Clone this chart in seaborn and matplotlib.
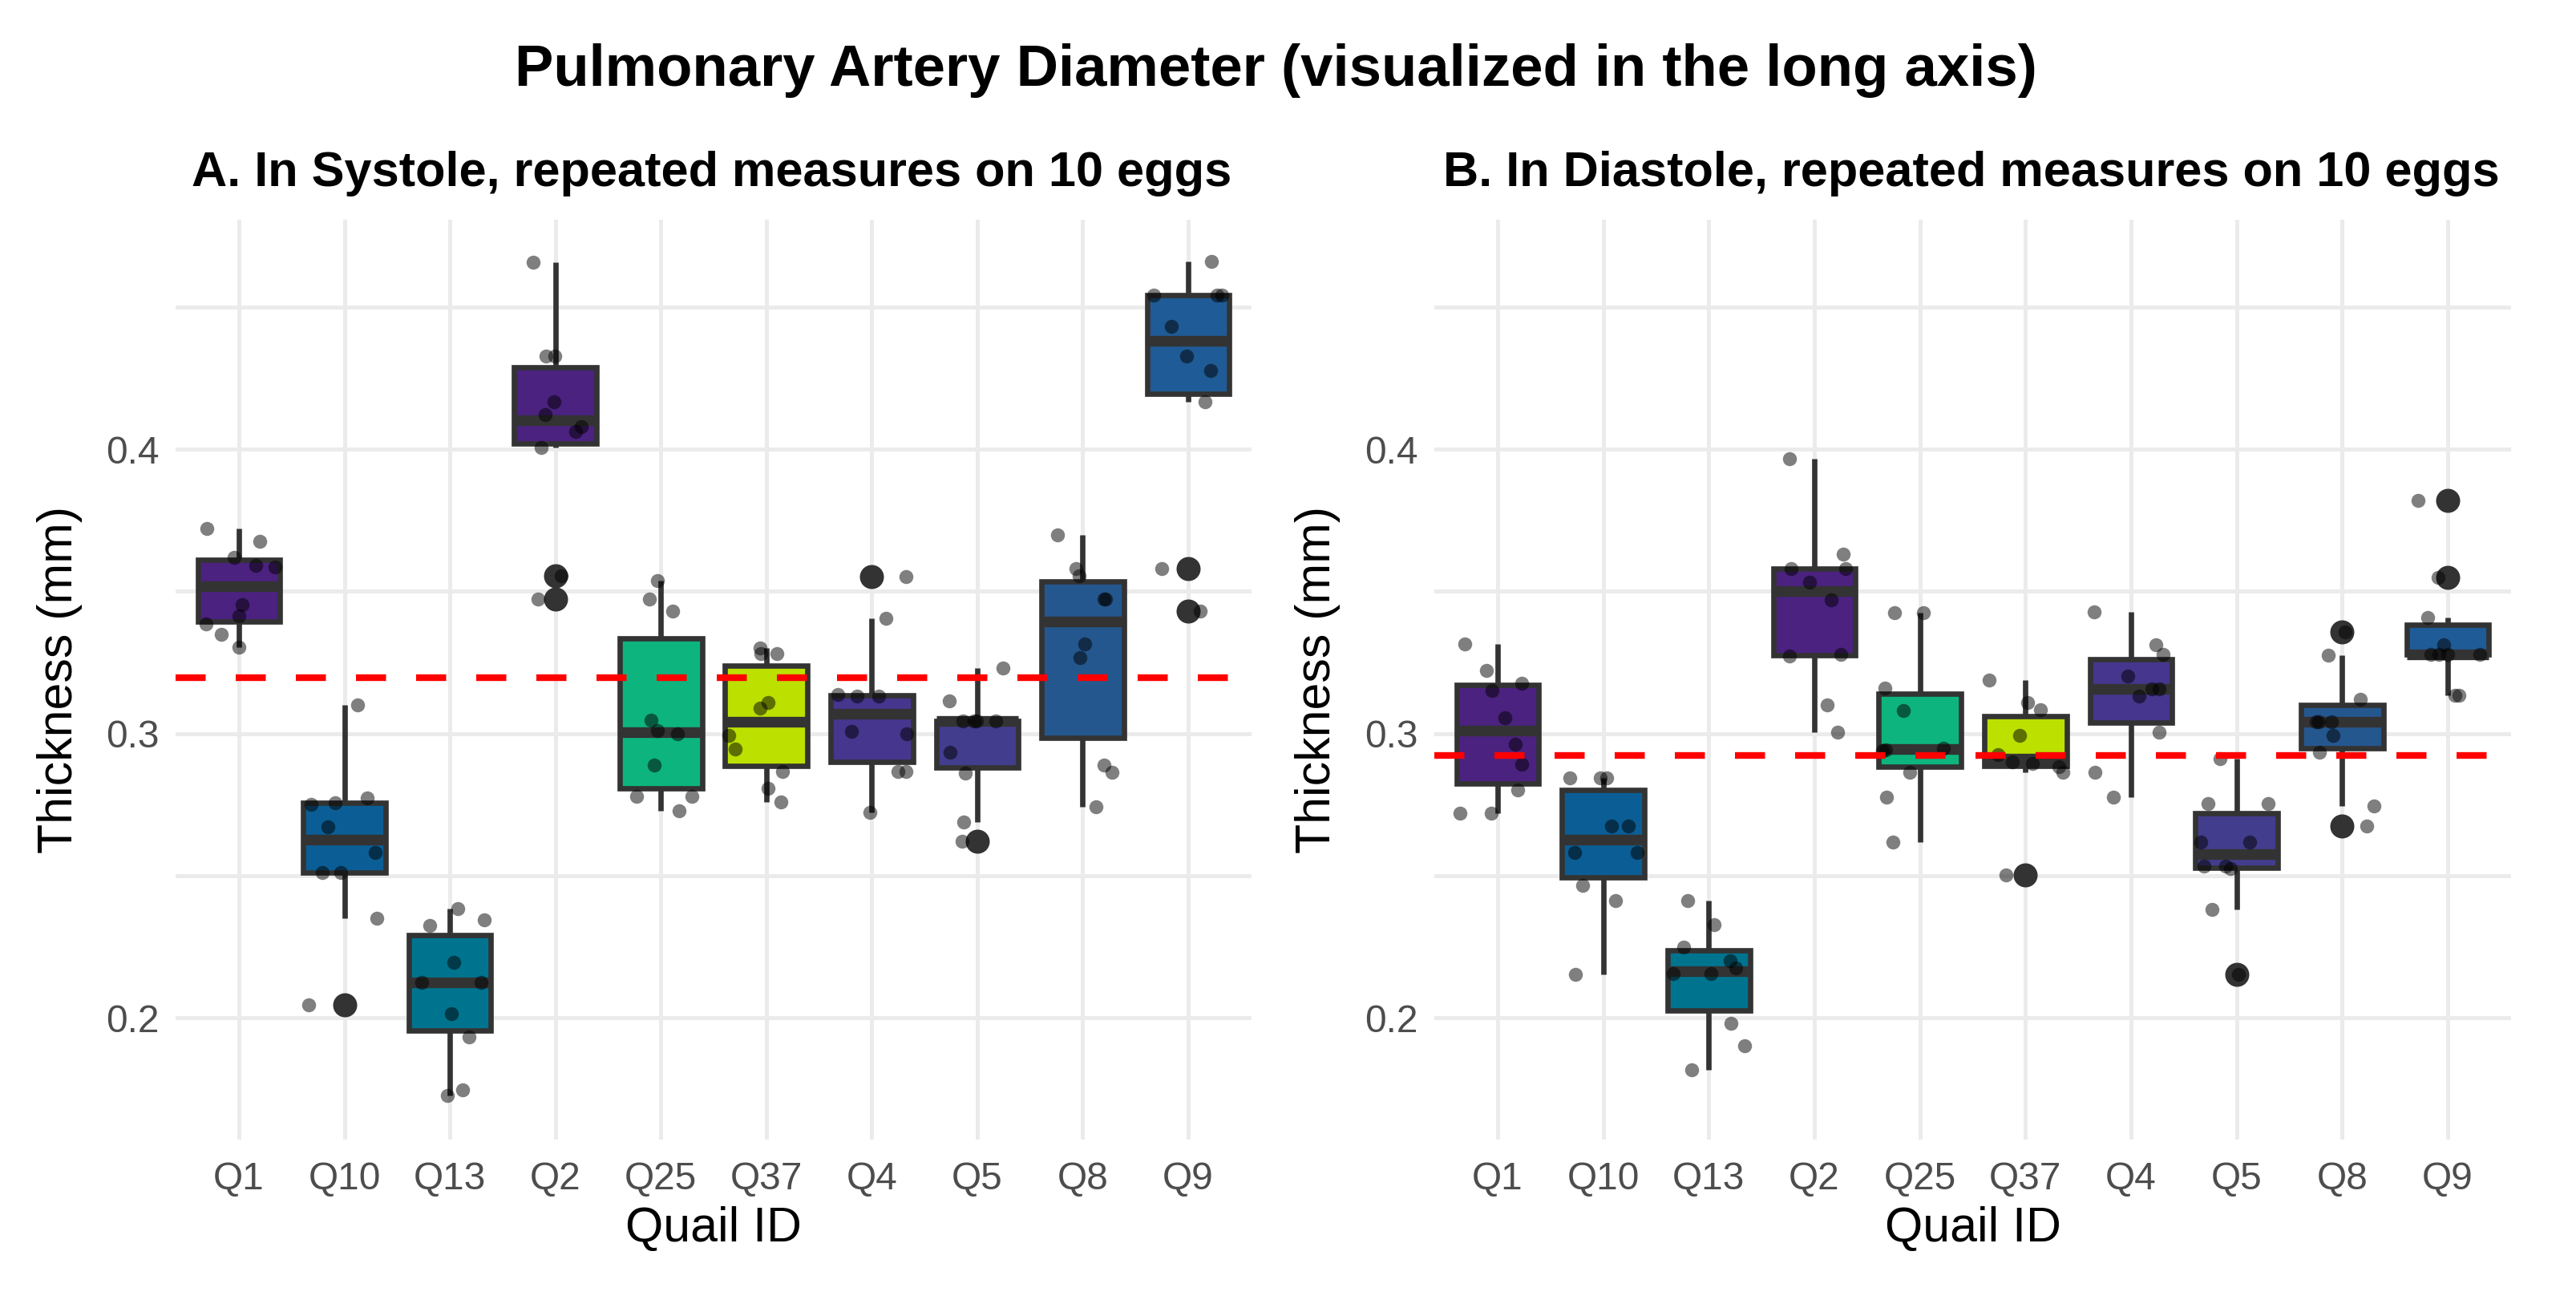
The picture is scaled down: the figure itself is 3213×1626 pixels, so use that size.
import numpy as np
import pandas as pd
import matplotlib
matplotlib.use("Agg")
import matplotlib.pyplot as plt
import seaborn as sns

# Quail IDs (alphabetical order, as on the x axis)
quail_ids = ["Q1", "Q10", "Q13", "Q2", "Q25", "Q37", "Q4", "Q5", "Q8", "Q9"]

# Systole: pulmonary artery diameter (mm), 10 repeated measures per egg
sys_q1 = [0.3720, 0.3675, 0.3620, 0.3590, 0.3585, 0.3453, 0.3413, 0.3386, 0.3350, 0.3305]
sys_q10 = [0.3101, 0.2774, 0.2757, 0.2751, 0.2673, 0.2583, 0.2512, 0.2512, 0.2351, 0.2046]
sys_q13 = [0.2384, 0.2344, 0.2324, 0.2196, 0.2125, 0.2125, 0.2015, 0.1934, 0.1746, 0.1726]
sys_q2 = [0.4658, 0.4328, 0.4328, 0.4167, 0.4122, 0.4080, 0.4062, 0.4005, 0.3555, 0.3473]
sys_q25 = [0.3538, 0.3473, 0.3430, 0.3047, 0.3009, 0.2999, 0.2889, 0.2780, 0.2780, 0.2727]
sys_q37 = [0.3301, 0.3282, 0.3282, 0.3110, 0.3090, 0.2992, 0.2946, 0.2866, 0.2806, 0.2760]
sys_q4 = [0.3552, 0.3406, 0.3136, 0.3133, 0.3133, 0.3007, 0.2999, 0.2866, 0.2866, 0.2724]
sys_q5 = [0.3230, 0.3115, 0.3045, 0.3045, 0.3045, 0.3045, 0.2934, 0.2862, 0.2688, 0.2622]
sys_q8 = [0.3699, 0.3581, 0.3555, 0.3473, 0.3473, 0.3315, 0.3268, 0.2889, 0.2863, 0.2741]
sys_q9 = [0.4661, 0.4543, 0.4543, 0.4543, 0.4433, 0.4328, 0.4277, 0.4167, 0.3581, 0.3430]

# Diastole
dia_q1 = [0.3315, 0.3221, 0.3177, 0.3152, 0.3055, 0.2963, 0.2891, 0.2801, 0.2719, 0.2719]
dia_q10 = [0.2844, 0.2844, 0.2844, 0.2674, 0.2674, 0.2581, 0.2581, 0.2466, 0.2413, 0.2152]
dia_q13 = [0.2413, 0.2327, 0.2248, 0.2202, 0.2176, 0.2155, 0.2155, 0.1982, 0.1903, 0.1817]
dia_q2 = [0.3967, 0.3630, 0.3580, 0.3580, 0.3532, 0.3469, 0.3279, 0.3274, 0.3102, 0.3006]
dia_q25 = [0.3426, 0.3426, 0.3160, 0.3082, 0.2949, 0.2942, 0.2940, 0.2863, 0.2777, 0.2619]
dia_q37 = [0.3188, 0.3110, 0.3085, 0.2992, 0.2925, 0.2900, 0.2895, 0.2884, 0.2863, 0.2504]
dia_q4 = [0.3429, 0.3312, 0.3279, 0.3203, 0.3157, 0.3157, 0.3131, 0.3006, 0.2863, 0.2777]
dia_q5 = [0.2913, 0.2755, 0.2755, 0.2619, 0.2619, 0.2533, 0.2533, 0.2525, 0.2382, 0.2153]
dia_q8 = [0.3358, 0.3276, 0.3120, 0.3042, 0.3042, 0.3042, 0.2992, 0.2935, 0.2745, 0.2674]
dia_q9 = [0.3821, 0.3550, 0.3408, 0.3312, 0.3279, 0.3279, 0.3279, 0.3279, 0.3135, 0.3135]

# Fill colour per quail
box_colors = ["#4B2280", "#0B5E95", "#00748F", "#4B2280", "#0DB47E",
              "#BCE000", "#46368E", "#433D8E", "#25578F", "#1F5B96"]

systole = [sys_q1, sys_q10, sys_q13, sys_q2, sys_q25, sys_q37, sys_q4, sys_q5, sys_q8, sys_q9]
diastole = [dia_q1, dia_q10, dia_q13, dia_q2, dia_q25, dia_q37, dia_q4, dia_q5, dia_q8, dia_q9]


def to_long(groups):
    rows = []
    for qid, vals in zip(quail_ids, groups):
        for v in vals:
            rows.append({"quail": qid, "thickness": v})
    return pd.DataFrame(rows)


df_sys = to_long(systole)
df_dia = to_long(diastole)
palette = dict(zip(quail_ids, box_colors))

sns.set_theme(style="white")
plt.rcParams['font.family'] = ['Liberation Sans', 'DejaVu Sans']

W, H = 3213, 1626
fig = plt.figure(figsize=(W / 300, H / 300), dpi=300)
fig.patch.set_facecolor("white")

ax_top, ax_bot = 274, 1420.6
ax_a = fig.add_axes([219 / W, 1 - ax_bot / H, 1342 / W, (ax_bot - ax_top) / H])
ax_b = fig.add_axes([1789 / W, 1 - ax_bot / H, 1343 / W, (ax_bot - ax_top) / H])

np.random.seed(7)


def draw_panel(ax, df):
    sns.boxplot(data=df, x="quail", y="thickness", hue="quail", order=quail_ids,
                hue_order=quail_ids, palette=palette, saturation=1, legend=False,
                width=0.78, linecolor="#333333", linewidth=1.6, showcaps=False,
                whis=1.5, fliersize=6.2,
                flierprops=dict(marker="o", markerfacecolor="#333333",
                                markeredgecolor="#333333", markersize=6.2),
                medianprops=dict(color="#333333", linewidth=3.2),
                ax=ax)
    sns.stripplot(data=df, x="quail", y="thickness", order=quail_ids,
                  color="black", alpha=0.5, size=4.2, jitter=0.36,
                  linewidth=0, zorder=3, ax=ax)
    ax.axhline(df["thickness"].mean(), color="red", lw=2.0,
               ls=(0, (4.5, 4.5)), zorder=4)

    ax.set_xlim(-0.6, 9.6)
    ax.set_ylim(0.1573, 0.4807)
    ax.set_yticks([0.2, 0.3, 0.4])
    ax.set_yticklabels(["0.2", "0.3", "0.4"])
    ax.set_yticks([0.25, 0.35, 0.45], minor=True)
    ax.grid(True, axis="y", which="both", color="#EBEBEB", lw=1.2)
    ax.grid(True, axis="x", which="major", color="#EBEBEB", lw=1.2)
    ax.set_axisbelow(True)
    for s in ax.spines.values():
        s.set_visible(False)
    ax.tick_params(axis="both", which="both", length=0, labelsize=11.5,
                   labelcolor="#4D4D4D")
    ax.tick_params(axis="x", pad=6.5)
    ax.tick_params(axis="y", pad=5)

    ax.set_xlabel("Quail ID", fontsize=14.6, color="black")
    ax.set_ylabel("Thickness (mm)", fontsize=14.6, color="black")
    ax.xaxis.set_label_coords(0.5, -0.098)
    ax.xaxis.label.set_va("center")
    ax.yaxis.set_label_coords(-0.108, 0.5)
    ax.yaxis.label.set_va("center")


draw_panel(ax_a, df_sys)
draw_panel(ax_b, df_dia)

fig.text(0.4952, 1 - 107 / H, "Pulmonary Artery Diameter (visualized in the long axis)",
         ha="center", va="baseline", fontsize=17.4, fontweight="bold", color="black")
fig.text(888 / W, 1 - 232 / H, "A. In Systole, repeated measures on 10 eggs",
         ha="center", va="baseline", fontsize=14.7, fontweight="bold", color="black")
fig.text(2459 / W, 1 - 232 / H, "B. In Diastole, repeated measures on 10 eggs",
         ha="center", va="baseline", fontsize=14.7, fontweight="bold", color="black")

fig.savefig("out.png", dpi=300, facecolor="white")
